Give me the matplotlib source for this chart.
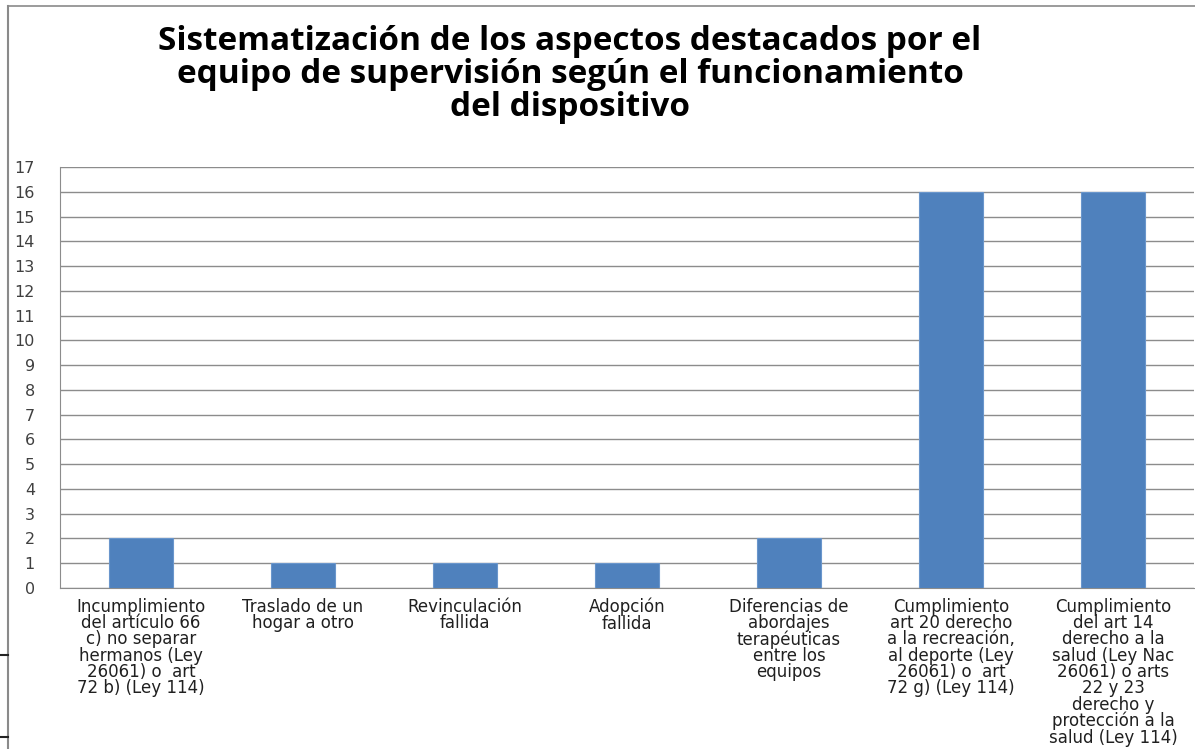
import os
import matplotlib
matplotlib.use("Agg")
import matplotlib.pyplot as plt
from matplotlib.lines import Line2D
from matplotlib.font_manager import FontProperties

# bundled DejaVu Sans (normal width), so the labels don't pick a condensed face
dejavu = os.path.join(matplotlib.get_data_path(), "fonts", "ttf", "DejaVuSans.ttf")

# categories and counts
categorias = [
    "Incumplimiento\ndel artículo 66\nc) no separar\nhermanos (Ley\n26061) o  art\n72 b) (Ley 114)",
    "Traslado de un\nhogar a otro",
    "Revinculación\nfallida",
    "Adopción\nfallida",
    "Diferencias de\nabordajes\nterapéuticas\nentre los\nequipos",
    "Cumplimiento\nart 20 derecho\na la recreación,\nal deporte (Ley\n26061) o  art\n72 g) (Ley 114)",
    "Cumplimiento\ndel art 14\nderecho a la\nsalud (Ley Nac\n26061) o arts\n22 y 23\nderecho y\nprotección a la\nsalud (Ley 114)",
]
valores = [2, 1, 1, 1, 2, 16, 16]
y_ticks = list(range(0, 18))

titulo = ("Sistematización de los aspectos destacados por el\n"
          "equipo de supervisión según el funcionamiento\n"
          "del dispositivo")

fig = plt.figure(figsize=(11.95, 7.49), dpi=100)
ax = fig.add_axes([0.0502, 0.215, 0.949, 0.562])

x = list(range(len(valores)))
ax.bar(x, valores, width=0.4, color="#4F81BD", edgecolor="#6A96CC",
       linewidth=0.8, zorder=3)

ax.set_xlim(-0.5, len(valores) - 0.5)
ax.set_ylim(0, 17)
ax.set_yticks(y_ticks)
ax.set_yticklabels([str(v) for v in y_ticks], color="#404040",
                   fontproperties=FontProperties(fname=dejavu, size=11.5))
ax.tick_params(axis="y", length=0, pad=18)
ax.set_xticks(x)
ax.set_xticklabels(categorias, color="#202020", linespacing=0.88, va="top",
                   fontproperties=FontProperties(fname=dejavu, size=12))
ax.tick_params(axis="x", length=0, pad=7)
ax.grid(axis="y", color="#8c8c8c", linewidth=1.0, zorder=0)
ax.set_axisbelow(True)
for s in ["top", "right"]:
    ax.spines[s].set_visible(False)
ax.spines["left"].set_color("#8c8c8c")
ax.spines["bottom"].set_color("#8c8c8c")

fig.text(0.477, 0.967, titulo, ha="center", va="top", fontsize=24,
         fontweight="bold", family="Open Sans", linespacing=1.0)

# outer chart frame (left and top) plus stray tick marks at the left edge
W, H = 1195.0, 749.0
fig.add_artist(Line2D([8 / W, 8 / W], [0, 1 - 6 / H], transform=fig.transFigure,
                      color="#8a8a8a", linewidth=1.5))
fig.add_artist(Line2D([8 / W, 1], [1 - 6 / H, 1 - 6 / H], transform=fig.transFigure,
                      color="#8a8a8a", linewidth=1.2))
for yy in [655, 737]:
    fig.add_artist(Line2D([0, 8 / W], [1 - yy / H, 1 - yy / H],
                          transform=fig.transFigure, color="#222222", linewidth=1.5))

fig.savefig("out.png", dpi=100)
